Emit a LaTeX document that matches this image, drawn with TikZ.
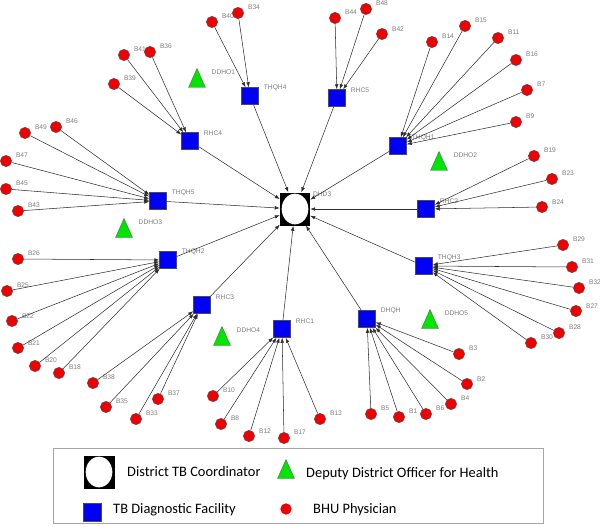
\documentclass[tikz,border=0pt]{standalone}
\usepackage{fontspec}
\usetikzlibrary{shapes.geometric, arrows.meta}
\newfontfamily\lblfont{Liberation Sans}
\newfontfamily\legendfont{Carlito}
\definecolor{bhured}{RGB}{240, 0, 0}
\definecolor{facilityblue}{RGB}{0, 0, 245}
\definecolor{officergreen}{RGB}{0, 230, 0}
\definecolor{edgegray}{RGB}{45, 45, 45}
\definecolor{labelgray}{RGB}{125, 125, 125}

\begin{document}
\begin{tikzpicture}[
    x=0.03cm, y=-0.03cm,
    lbl/.style={font=\lblfont\fontsize{5.7}{7}\selectfont, text=labelgray},
    bhu/.style={circle, fill=bhured, draw=black!70, line width=0.4pt, minimum size=0.34cm, inner sep=0pt, label={[lbl, xshift=0cm, yshift=0.16cm]east:#1}},
    facility/.style={rectangle, fill=facilityblue, draw=black!70, line width=0.4pt, minimum size=0.51cm, inner sep=0pt, label={[lbl, xshift=0.03cm, yshift=0.24cm]east:#1}},
    officer/.style={isosceles triangle, isosceles triangle apex angle=48, shape border rotate=90, fill=officergreen, draw=black!60, line width=0.4pt, minimum height=0.57cm, inner sep=0pt, label={[lbl, xshift=0.13cm, yshift=0.3cm]east:#1}},
    coordinator/.style={rectangle, fill=black, minimum width=0.9cm, minimum height=0.99cm, inner sep=0pt, path picture={\fill[white] (path picture bounding box.center) ellipse (0.4cm and 0.46cm);}},
    legtext/.style={font=\legendfont\fontsize{12.3}{14}\selectfont, anchor=base west, inner sep=0pt},
    arrow/.style={-{Latex[length=1.5mm, width=1.1mm]}, draw=edgegray, line width=0.45pt}
]
\useasboundingbox (0,0) rectangle (600,526);

% District TB coordinator
\node[coordinator, label={[lbl, xshift=-0.04cm, yshift=0.45cm]east:DHD3}] (dhd3) at (295,209) {};

% TB diagnostic facilities
\node[facility=THQH4] (thqh4) at (250,96) {};
\node[facility=RHC5] (rhc5) at (337,98) {};
\node[facility=RHC4] (rhc4) at (190,141) {};
\node[facility=THQH1] (thqh1) at (398,146) {};
\node[facility=THQH5] (thqh5) at (158,201) {};
\node[facility=RHC2] (rhc2) at (426,209) {};
\node[facility=THQH2] (thqh2) at (168,260) {};
\node[facility=THQH3] (thqh3) at (424,266) {};
\node[facility=RHC3] (rhc3) at (202,305) {};
\node[facility=RHC1] (rhc1) at (282,329) {};
\node[facility=DHQH] (dhqh) at (367,319) {};

% Deputy district officers
\node[officer=DDHO1] (ddho1) at (197,82) {};
\node[officer=DDHO2] (ddho2) at (439,165) {};
\node[officer=DDHO3] (ddho3) at (124,232) {};
\node[officer=DDHO4] (ddho4) at (222,340) {};
\node[officer=DDHO5] (ddho5) at (430,323) {};

% BHU physicians
\node[bhu=B41] (b41) at (124,55) {};
\node[bhu=B36] (b36) at (150,52) {};
\node[bhu=B39] (b39) at (114,84) {};
\node[bhu=B40] (b40) at (212,22) {};
\node[bhu=B34] (b34) at (238,13) {};
\node[bhu=B44] (b44) at (335,18) {};
\node[bhu=B48] (b48) at (366,9) {};
\node[bhu=B42] (b42) at (382,34) {};
\node[bhu=B14] (b14) at (432,42) {};
\node[bhu=B15] (b15) at (465,26) {};
\node[bhu=B11] (b11) at (498,38) {};
\node[bhu=B16] (b16) at (516,60) {};
\node[bhu=B7] (b7) at (527,90) {};
\node[bhu=B9] (b9) at (516,122) {};
\node[bhu=B49] (b49) at (25,133) {};
\node[bhu=B46] (b46) at (56,127) {};
\node[bhu=B47] (b47) at (6,161) {};
\node[bhu=B45] (b45) at (6,189) {};
\node[bhu=B43] (b43) at (18,211) {};
\node[bhu=B19] (b19) at (534,156) {};
\node[bhu=B23] (b23) at (552,179) {};
\node[bhu=B24] (b24) at (542,207) {};
\node[bhu=B26] (b26) at (18,259) {};
\node[bhu=B25] (b25) at (7,291) {};
\node[bhu=B22] (b22) at (12,321) {};
\node[bhu=B21] (b21) at (18,348) {};
\node[bhu=B20] (b20) at (35,366) {};
\node[bhu=B18] (b18) at (59,373) {};
\node[bhu=B29] (b29) at (563,245) {};
\node[bhu=B31] (b31) at (572,267) {};
\node[label distance=-0.15cm, bhu=B32] (b32) at (579,288) {};
\node[bhu=B27] (b27) at (576,311) {};
\node[bhu=B28] (b28) at (559,333) {};
\node[bhu=B30] (b30) at (531,343) {};
\node[bhu=B38] (b38) at (93,383) {};
\node[bhu=B35] (b35) at (106,407) {};
\node[bhu=B33] (b33) at (136,419) {};
\node[bhu=B37] (b37) at (158,399) {};
\node[bhu=B10] (b10) at (213,396) {};
\node[bhu=B8] (b8) at (221,424) {};
\node[bhu=B12] (b12) at (249,436) {};
\node[bhu=B17] (b17) at (284,438) {};
\node[bhu=B13] (b13) at (320,419) {};
\node[bhu=B5] (b5) at (371,414) {};
\node[bhu=B1] (b1) at (399,417) {};
\node[bhu=B6] (b6) at (426,414) {};
\node[bhu=B4] (b4) at (451,404) {};
\node[bhu=B2] (b2) at (467,384) {};
\node[bhu=B3] (b3) at (459,354) {};

% Physicians to facilities
\draw[arrow] (b41) -- (rhc4);
\draw[arrow] (b36) -- (rhc4);
\draw[arrow] (b39) -- (rhc4);
\draw[arrow] (b40) -- (thqh4);
\draw[arrow] (b34) -- (thqh4);
\draw[arrow] (b44) -- (rhc5);
\draw[arrow] (b48) -- (rhc5);
\draw[arrow] (b42) -- (rhc5);
\draw[arrow] (b14) -- (thqh1);
\draw[arrow] (b15) -- (thqh1);
\draw[arrow] (b11) -- (thqh1);
\draw[arrow] (b16) -- (thqh1);
\draw[arrow] (b7) -- (thqh1);
\draw[arrow] (b9) -- (thqh1);
\draw[arrow] (b49) -- (thqh5);
\draw[arrow] (b46) -- (thqh5);
\draw[arrow] (b47) -- (thqh5);
\draw[arrow] (b45) -- (thqh5);
\draw[arrow] (b43) -- (thqh5);
\draw[arrow] (b19) -- (rhc2);
\draw[arrow] (b23) -- (rhc2);
\draw[arrow] (b24) -- (rhc2);
\draw[arrow] (b26) -- (thqh2);
\draw[arrow] (b25) -- (thqh2);
\draw[arrow] (b22) -- (thqh2);
\draw[arrow] (b21) -- (thqh2);
\draw[arrow] (b20) -- (thqh2);
\draw[arrow] (b18) -- (thqh2);
\draw[arrow] (b29) -- (thqh3);
\draw[arrow] (b31) -- (thqh3);
\draw[arrow] (b32) -- (thqh3);
\draw[arrow] (b27) -- (thqh3);
\draw[arrow] (b28) -- (thqh3);
\draw[arrow] (b30) -- (thqh3);
\draw[arrow] (b38) -- (rhc3);
\draw[arrow] (b35) -- (rhc3);
\draw[arrow] (b33) -- (rhc3);
\draw[arrow] (b37) -- (rhc3);
\draw[arrow] (b10) -- (rhc1);
\draw[arrow] (b8) -- (rhc1);
\draw[arrow] (b12) -- (rhc1);
\draw[arrow] (b17) -- (rhc1);
\draw[arrow] (b13) -- (rhc1);
\draw[arrow] (b5) -- (dhqh);
\draw[arrow] (b1) -- (dhqh);
\draw[arrow] (b6) -- (dhqh);
\draw[arrow] (b4) -- (dhqh);
\draw[arrow] (b2) -- (dhqh);
\draw[arrow] (b3) -- (dhqh);

% Facilities to coordinator
\draw[arrow] (thqh4) -- (dhd3);
\draw[arrow] (rhc5) -- (dhd3);
\draw[arrow] (rhc4) -- (dhd3);
\draw[arrow] (thqh1) -- (dhd3);
\draw[arrow] (thqh5) -- (dhd3);
\draw[arrow] (rhc2) -- (dhd3);
\draw[arrow] (thqh2) -- (dhd3);
\draw[arrow] (thqh3) -- (dhd3);
\draw[arrow] (rhc3) -- (dhd3);
\draw[arrow] (rhc1) -- (dhd3);
\draw[arrow] (dhqh) -- (dhd3);

% Legend
\node[draw=black!35, line width=0.5pt, minimum width=14.7cm, minimum height=2.25cm, inner sep=0pt] (legend) at (298,485.5) {};
\node[coordinator, minimum width=0.93cm] (legcoord) at (99,472) {};
\node[legtext] (legcoordtxt) at (127,476) {District TB Coordinator};
\node[officer=] (legofficer) at (286,473) {};
\node[legtext] (legofficertxt) at (306,477.5) {Deputy District Officer for Health};
\node[facility=, minimum size=0.55cm] (legfacility) at (92,512) {};
\node[legtext] (legfacilitytxt) at (113,513) {TB Diagnostic Facility};
\node[bhu=, draw=none] (legbhu) at (286,509) {};
\node[legtext] (legbhutxt) at (313,513) {BHU Physician};

\end{tikzpicture}
\end{document}
